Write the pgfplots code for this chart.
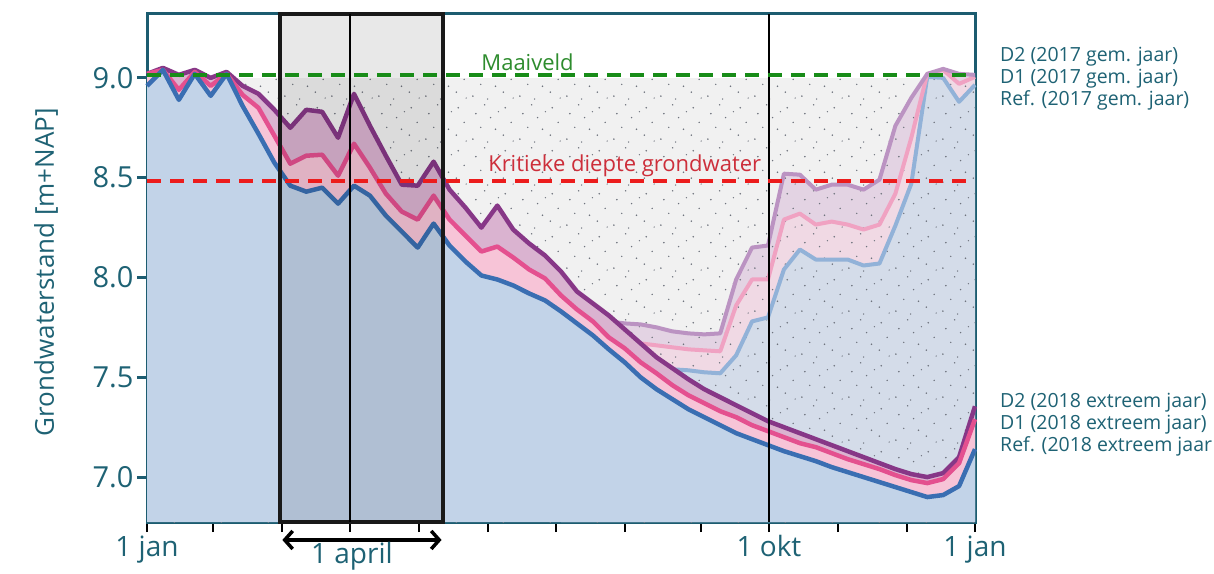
\documentclass[border=0pt]{standalone}
\usepackage{fontspec}
\setmainfont{Open Sans}
\usepackage{pgfplots}
\usepackage{pgfplotstable}
\pgfplotsset{compat=1.18}
\usepgfplotslibrary{fillbetween}
\usetikzlibrary{patterns,arrows.meta}

\definecolor{txt}{RGB}{30,98,116}
\definecolor{frame}{RGB}{28,92,112}
\definecolor{greyfill}{RGB}{241,241,241}
\definecolor{dotc}{RGB}{110,115,125}
\definecolor{lR}{RGB}{58,110,178}
\definecolor{lDa}{RGB}{228,80,143}
\definecolor{lDb}{RGB}{135,55,135}
\definecolor{fR}{RGB}{194,211,232}
\definecolor{fDa}{RGB}{247,196,215}
\definecolor{fDb}{RGB}{218,179,208}
\definecolor{mR}{RGB}{146,178,216}
\definecolor{mDa}{RGB}{240,162,194}
\definecolor{mDb}{RGB}{187,147,194}
\definecolor{gR}{RGB}{212,220,233}
\definecolor{gDa}{RGB}{240,217,228}
\definecolor{gDb}{RGB}{227,211,227}
\definecolor{mvgreen}{RGB}{24,140,24}
\definecolor{mvtext}{RGB}{46,140,46}
\definecolor{krred}{RGB}{236,28,28}
\definecolor{krtext}{RGB}{205,46,58}

\pgfdeclarepatternformonly{sdots}{\pgfqpoint{0pt}{0pt}}{\pgfqpoint{47pt}{43pt}}{\pgfqpoint{47pt}{43pt}}{%
  \pgfpathcircle{\pgfqpoint{3pt}{5pt}}{0.9pt}
  \pgfpathcircle{\pgfqpoint{18pt}{2pt}}{0.8pt}
  \pgfpathcircle{\pgfqpoint{34pt}{9pt}}{0.9pt}
  \pgfpathcircle{\pgfqpoint{11pt}{17pt}}{0.8pt}
  \pgfpathcircle{\pgfqpoint{26pt}{15pt}}{0.9pt}
  \pgfpathcircle{\pgfqpoint{42pt}{22pt}}{0.8pt}
  \pgfpathcircle{\pgfqpoint{6pt}{31pt}}{0.9pt}
  \pgfpathcircle{\pgfqpoint{21pt}{27pt}}{0.8pt}
  \pgfpathcircle{\pgfqpoint{36pt}{37pt}}{0.9pt}
  \pgfpathcircle{\pgfqpoint{15pt}{40pt}}{0.8pt}
  \pgfpathcircle{\pgfqpoint{29pt}{33pt}}{0.7pt}
  \pgfpathcircle{\pgfqpoint{44pt}{3pt}}{0.7pt}
  \pgfusepath{fill}}

% 2018 (extreem jaar): week index, Ref, D1, D2
\pgfplotstableread{
k r18 d118 d218
0 8.96 9.02 9.02
1 9.04 9.04 9.05
2 8.89 8.94 9.015
3 9.02 9.03 9.04
4 8.91 8.96 9.0
5 9.02 9.02 9.03
6 8.86 8.915 8.96
7 8.72 8.85 8.92
8 8.575 8.71 8.84
9 8.46 8.57 8.75
10 8.43 8.61 8.84
11 8.45 8.615 8.83
12 8.37 8.51 8.70
13 8.46 8.67 8.92
14 8.41 8.55 8.76
15 8.31 8.42 8.61
16 8.23 8.33 8.465
17 8.15 8.29 8.46
18 8.27 8.41 8.58
19 8.16 8.29 8.44
20 8.08 8.21 8.35
21 8.01 8.13 8.25
22 7.99 8.155 8.36
23 7.96 8.10 8.24
24 7.92 8.04 8.17
25 7.885 7.995 8.11
26 7.83 7.91 8.03
27 7.77 7.84 7.93
28 7.71 7.78 7.87
29 7.64 7.70 7.81
30 7.575 7.645 7.74
31 7.50 7.575 7.67
32 7.44 7.52 7.60
33 7.39 7.46 7.545
34 7.34 7.41 7.49
35 7.30 7.37 7.44
36 7.26 7.33 7.40
37 7.22 7.30 7.36
38 7.19 7.26 7.32
39 7.16 7.23 7.28
40 7.13 7.20 7.25
41 7.105 7.17 7.22
42 7.08 7.15 7.19
43 7.05 7.12 7.16
44 7.025 7.09 7.13
45 7.00 7.065 7.10
46 6.975 7.04 7.07
47 6.95 7.01 7.04
48 6.925 6.985 7.015
49 6.90 6.97 7.0
50 6.91 6.99 7.02
51 6.955 7.07 7.10
52 7.14 7.29 7.355
}\tabA

% 2017 (gemiddeld jaar), visible part
\pgfplotstableread{
k r17 d117 d217
26 7.56 7.70 7.80
27 7.56 7.695 7.79
28 7.555 7.69 7.785
29 7.55 7.685 7.78
30 7.55 7.68 7.77
31 7.545 7.67 7.765
32 7.545 7.66 7.75
33 7.54 7.65 7.73
34 7.535 7.64 7.72
35 7.525 7.635 7.715
36 7.52 7.63 7.72
37 7.61 7.86 7.99
38 7.78 7.99 8.15
39 7.80 7.99 8.16
40 8.04 8.29 8.52
41 8.14 8.32 8.515
42 8.09 8.265 8.44
43 8.09 8.28 8.465
44 8.09 8.265 8.465
45 8.06 8.24 8.44
46 8.07 8.265 8.49
47 8.26 8.42 8.76
48 8.47 8.70 8.90
49 9.005 9.02 9.02
50 9.0 9.04 9.045
51 8.88 8.97 9.02
52 8.965 9.005 9.015
}\tabB

\begin{document}
\begin{tikzpicture}
\begin{axis}[name=ax,
  scale only axis, width=828pt, height=508pt,
  xmin=0, xmax=52, ymin=6.775, ymax=9.32,
  clip=false,
  fill between/on layer=main,
  axis line style={frame, line width=3pt},
  tick align=outside, major tick length=10pt,
  xtick pos=bottom, ytick pos=left,
  xtick={0,4.145,8.478,12.75,17.08,21.41,25.69,30.02,34.79,39.06,43.40,47.73,52},
  xticklabels={1 jan,,,,,,,,,1 okt,,,1 jan},
  ytick={7,7.5,8,8.5,9},
  x tick style={black, line width=2pt},
  y tick style={frame, line width=3pt},
  /pgf/number format/assume math mode=true,
  yticklabel style={/pgf/number format/fixed, /pgf/number format/fixed zerofill, /pgf/number format/precision=1, font=\fontsize{29}{33}\selectfont, text=txt},
  xticklabel style={font=\fontsize{28}{32}\selectfont, text=txt},
  ylabel={Grondwaterstand [m+NAP]},
  ylabel style={at={(axis description cs:-0.122,0.492)}, anchor=center, font=\fontsize{26}{30}\selectfont, text=txt},
]
% grey base of the 2017 layer
\addplot[draw=none, fill=greyfill] coordinates {(0,6.775) (52,6.775) (52,9.0) (0,9.0)} -- cycle;
% 2017 layer
\addplot[draw=none, name path=b17] coordinates {(26,6.775) (52,6.775)};
\addplot[draw=none, name path=r17] table[x=k,y=r17]{\tabB};
\addplot[draw=none, name path=d117] table[x=k,y=d117]{\tabB};
\addplot[draw=none, name path=d217] table[x=k,y=d217]{\tabB};
\addplot[fill=gR, draw=none] fill between[of=r17 and b17];
\addplot[fill=gDa, draw=none] fill between[of=d117 and r17];
\addplot[fill=gDb, draw=none] fill between[of=d217 and d117];
\addplot[draw=none, pattern=sdots, pattern color=dotc] coordinates {(0,6.775) (52,6.775) (52,9.0) (0,9.0)} -- cycle;
\addplot[mR, line width=4pt, line join=round] table[x=k,y=r17]{\tabB};
\addplot[mDa, line width=4pt, line join=round] table[x=k,y=d117]{\tabB};
\addplot[mDb, line width=4pt, line join=round] table[x=k,y=d217]{\tabB};
% 2018 layer
\addplot[draw=none, name path=b18] coordinates {(0,6.775) (52,6.775)};
\addplot[draw=none, name path=r18] table[x=k,y=r18]{\tabA};
\addplot[draw=none, name path=d118] table[x=k,y=d118]{\tabA};
\addplot[draw=none, name path=d218] table[x=k,y=d218]{\tabA};
\addplot[fill=fR, draw=none] fill between[of=r18 and b18];
\addplot[fill=fDa, draw=none] fill between[of=d118 and r18];
\addplot[fill=fDb, draw=none] fill between[of=d218 and d118];
\addplot[lDb, line width=4.5pt, line join=round] table[x=k,y=d218]{\tabA};
\addplot[lDa, line width=4.5pt, line join=round] table[x=k,y=d118]{\tabA};
\addplot[lR, line width=4.5pt, line join=round] table[x=k,y=r18]{\tabA};
% box around 1 april
\addplot[draw=black!90, line width=4pt, fill=black, fill opacity=0.09] coordinates {(8.35,6.775) (18.59,6.775) (18.59,9.32) (8.35,9.32)} -- cycle;
\addplot[black, line width=1.5pt] coordinates {(12.75,6.775) (12.75,9.32)};
\addplot[black, line width=1.8pt] coordinates {(39.06,6.775) (39.06,9.32)};
% reference levels
\addplot[mvgreen, line width=4pt, dash pattern=on 14pt off 9pt] coordinates {(0,9.015) (52,9.015)};
\addplot[krred, line width=4pt, dash pattern=on 14pt off 9pt] coordinates {(0,8.485) (52,8.485)};
\node[text=mvtext, font=\fontsize{22}{26}\selectfont] at (axis cs:23.9,9.08) {Maaiveld};
\node[text=krtext, font=\fontsize{22}{26}\selectfont] at (axis cs:30.0,8.56) {Kritieke diepte grondwater};
% arrow and label
\draw[{Straight Barb[length=8pt,width=18pt]}-{Straight Barb[length=8pt,width=18pt]}, line width=3.5pt] (axis cs:8.5,6.685) -- (axis cs:18.5,6.685);
\node[text=txt, font=\fontsize{28}{32}\selectfont] at (axis cs:12.87,6.605) {1 april};
% labels at the right
\begin{scope}[every node/.style={anchor=west, text=txt, font=\fontsize{19.5}{22}\selectfont, inner sep=0pt}]
\node at (axis description cs:1.0302,0.915) {D2 (2017 gem. jaar)};
\node at (axis description cs:1.0302,0.872) {D1 (2017 gem. jaar)};
\node at (axis description cs:1.0302,0.829) {Ref. (2017 gem. jaar)};
\node at (axis description cs:1.0302,0.234) {D2 (2018 extreem jaar)};
\node at (axis description cs:1.0302,0.191) {D1 (2018 extreem jaar)};
\node at (axis description cs:1.0302,0.148) {Ref. (2018 extreem jaar};
\end{scope}
\end{axis}
\pgfresetboundingbox
\path (ax.south west) ++(-147pt,-51pt) rectangle ++(1214pt,573pt);
\end{tikzpicture}
\end{document}
